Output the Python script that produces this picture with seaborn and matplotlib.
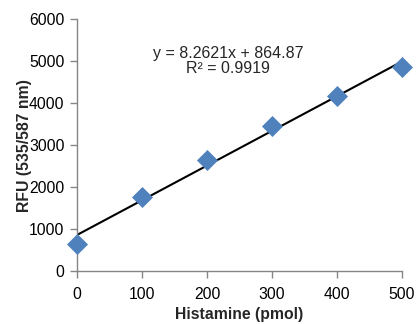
import numpy as np
import pandas as pd
import matplotlib
matplotlib.use("Agg")
import matplotlib.pyplot as plt
import seaborn as sns

histamine = [0, 100, 200, 300, 400, 500]
rfu = [660, 1780, 2650, 3460, 4170, 4870]
slope = 8.2621
intercept = 864.87
r2 = 0.9919
x_ticks = [0, 100, 200, 300, 400, 500]
y_ticks = [0, 1000, 2000, 3000, 4000, 5000, 6000]

sns.set_style("white")
plt.rcParams['font.family'] = ['Liberation Sans', 'DejaVu Sans']

df = pd.DataFrame({"Histamine (pmol)": histamine, "RFU": rfu})

fig = plt.figure(figsize=(4.17, 3.24), dpi=100)
ax = fig.add_axes([0.1847, 0.1627, 0.7793, 0.7777])

xs = np.array([min(histamine), max(histamine)])
ax.plot(xs, slope * xs + intercept, color="black", lw=1.5, zorder=2)
sns.scatterplot(data=df, x="Histamine (pmol)", y="RFU", marker="D", s=115,
                color="#4F81BD", edgecolor="#4F81BD", linewidth=0, ax=ax, zorder=3,
                clip_on=False)

ax.set_xlim(0, 500)
ax.set_ylim(0, 6000)
ax.set_xticks(x_ticks)
ax.set_yticks(y_ticks)
ax.tick_params(axis="both", labelsize=11.3, colors="#868686", labelcolor="black",
               length=5, width=1, direction="out", bottom=True, left=True)
ax.tick_params(axis="x", pad=6)
ax.tick_params(axis="y", pad=4)
for side in ["top", "right"]:
    ax.spines[side].set_visible(False)
for side in ["left", "bottom"]:
    ax.spines[side].set_color("#868686")
    ax.spines[side].set_linewidth(1)

ax.set_xlabel("Histamine (pmol)", fontsize=11.3, fontweight="bold", labelpad=4)
ax.set_ylabel("RFU (535/587 nm)", fontsize=11.3, fontweight="bold", labelpad=-2)

ax.text(232, 5010, f"y = {slope}x + {intercept}\nR\u00b2 = {r2}", ha="center", va="center",
        fontsize=11.5, linespacing=1.05)

fig.savefig("out.png", dpi=100)
